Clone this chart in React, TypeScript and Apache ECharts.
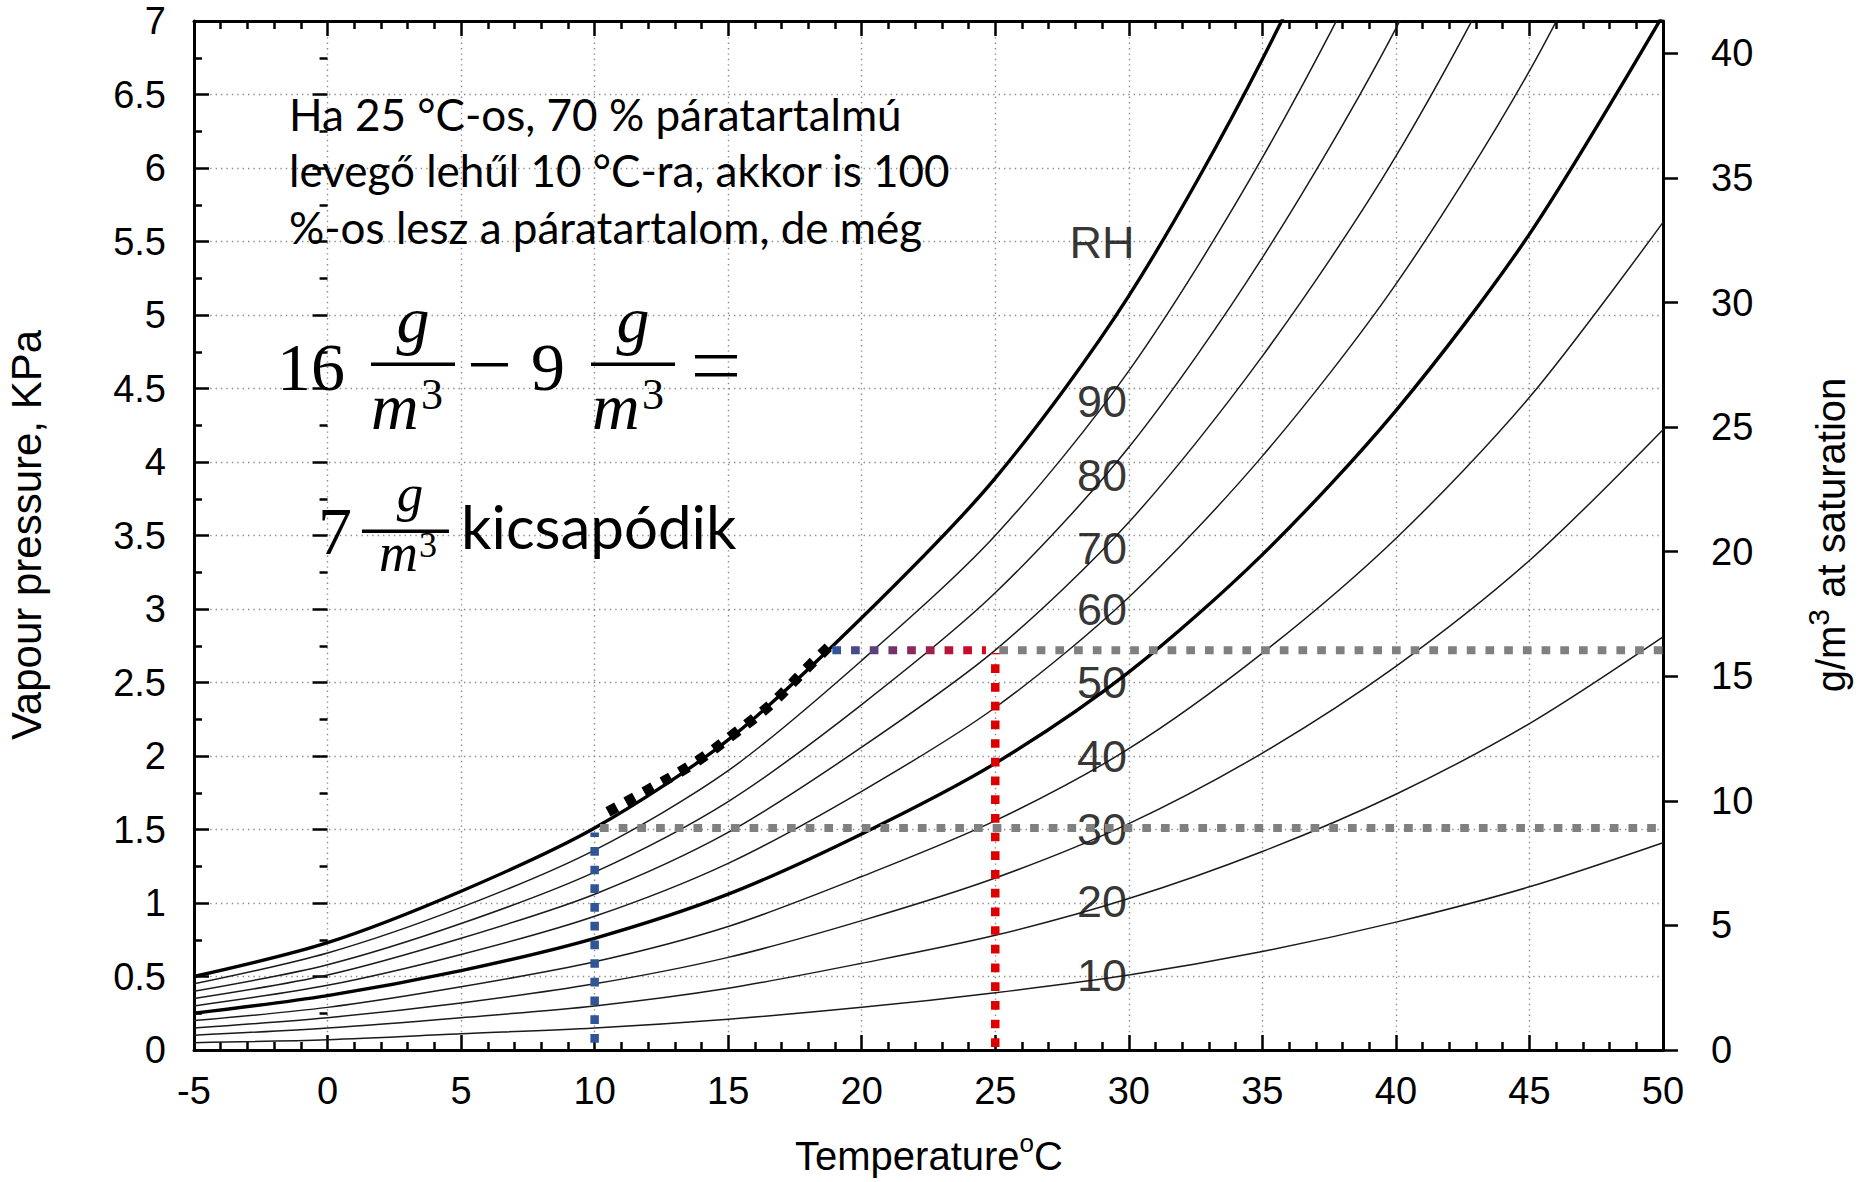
import React, { useEffect, useRef } from "react";
import * as echarts from "echarts";

const temperatures = [-5, 0, 5, 10, 15, 20, 25, 30, 35, 40, 45, 50];
// Vapour pressure (KPa) of each relative-humidity curve
const rh100 = [0.5, 0.73, 1.08, 1.51, 2.11, 2.94, 3.89, 5.13, 6.74, 8.69, 11.1, 14.07];
const rh90 = [0.45, 0.66, 0.97, 1.36, 1.9, 2.65, 3.5, 4.62, 6.07, 7.82, 9.99, 12.66];
const rh80 = [0.4, 0.58, 0.86, 1.21, 1.69, 2.35, 3.11, 4.1, 5.39, 6.95, 8.88, 11.26];
const rh70 = [0.35, 0.51, 0.76, 1.06, 1.48, 2.06, 2.72, 3.59, 4.72, 6.08, 7.77, 9.85];
const rh60 = [0.3, 0.44, 0.65, 0.91, 1.27, 1.76, 2.33, 3.08, 4.04, 5.21, 6.66, 8.44];
const rh50 = [0.25, 0.37, 0.54, 0.76, 1.06, 1.47, 1.95, 2.57, 3.37, 4.35, 5.55, 7.04];
const rh40 = [0.2, 0.29, 0.43, 0.6, 0.84, 1.18, 1.56, 2.05, 2.7, 3.48, 4.44, 5.63];
const rh30 = [0.15, 0.22, 0.32, 0.45, 0.63, 0.88, 1.17, 1.54, 2.02, 2.61, 3.33, 4.22];
const rh20 = [0.1, 0.15, 0.22, 0.3, 0.42, 0.59, 0.78, 1.03, 1.35, 1.74, 2.22, 2.81];
const rh10 = [0.05, 0.07, 0.11, 0.15, 0.21, 0.29, 0.39, 0.51, 0.67, 0.87, 1.11, 1.41];

// RH labels placed in the plot
const rhLabelNames = ["RH", "90", "80", "70", "60", "50", "40", "30", "20", "10"];
const rhLabelTemp = 29.0;
const rhLabelPressure = [5.49, 4.41, 3.91, 3.41, 3.0, 2.5, 2.0, 1.5, 1.01, 0.51];

// Annotation: dotted marker along the saturation curve (10 -> 19 °C)
const coolingTemp = [10.5, 12.3, 13.8, 15.25, 16.65, 17.9, 18.75];
const coolingPressure = [1.62, 1.8, 1.96, 2.155, 2.36, 2.59, 2.74];

// Annotation guide values
const lowTemp = 10;
const highTemp = 25;
const lowLevel = 1.51; // ≈ 9 g/m3
const highLevel = 2.72; // ≈ 16 g/m3
const gradientStart = 18.9;
const xMax = 50;

// Right axis (g/m3 at saturation)
const rightTicks = [0, 5, 10, 15, 20, 25, 30, 35, 40];
const rightMax = 41.3;

const SANS = '"Liberation Sans", Arial, Helvetica, sans-serif';
const SERIF = '"Liberation Serif", "DejaVu Serif", serif';
const CAL = 'Lato, "Open Sans", "Noto Sans", sans-serif';

const curves = [
  { v: rh100, thick: true },
  { v: rh90, thick: false },
  { v: rh80, thick: false },
  { v: rh70, thick: false },
  { v: rh60, thick: false },
  { v: rh50, thick: true },
  { v: rh40, thick: false },
  { v: rh30, thick: false },
  { v: rh20, thick: false },
  { v: rh10, thick: false },
];

function txt(text: string, x: number, y: number, fontSize: number, fontFamily: string, extra: any = {}, align = "left") {
  return {
    type: "text",
    x,
    y,
    silent: true,
    z: 100,
    style: {
      text,
      fontSize,
      fontFamily,
      fill: "#000",
      align,
      verticalAlign: "middle",
      textAlign: align,
      textVerticalAlign: "middle",
      ...extra,
    },
  };
}

function bar(x: number, y: number, w: number, h = 3.5) {
  return { type: "rect", silent: true, z: 100, shape: { x, y, width: w, height: h }, style: { fill: "#000" } };
}

export default function App() {
  const ref = useRef<HTMLDivElement>(null);

  useEffect(() => {
    if (!ref.current) return;
    const chart = echarts.init(ref.current, undefined, { renderer: "svg" });

    const tickStyle = { color: "#000", width: 2.5 };
    const gridLine = { color: "#8c8c8c", width: 1.4, type: [1.4, 4] };

    const curveSeries = curves.map((c) => ({
      type: "line",
      data: temperatures.map((t, i) => [t, c.v[i]]),
      smooth: 0.3,
      showSymbol: false,
      symbol: "none",
      silent: true,
      clip: true,
      lineStyle: { color: c.thick ? "#000" : "#1a1a1a", width: c.thick ? 3.4 : 1.5 },
      z: 3,
    }));

    const dotted = (data: number[][], color: string, width = 8.5, dash = [8.7, 10]) => ({
      type: "line",
      data,
      showSymbol: false,
      symbol: "none",
      silent: true,
      lineStyle: { color, width, type: dash, cap: "butt" },
      z: 5,
    });

    const series: any[] = [
      {
        type: "scatter",
        data: rhLabelNames.map((n, i) => [rhLabelTemp, rhLabelPressure[i], n]),
        symbolSize: 1,
        itemStyle: { color: "rgba(0,0,0,0)" },
        silent: true,
        z: 2,
        label: {
          show: true,
          position: "inside",
          formatter: (p: any) => p.data[2],
          fontSize: 45,
          fontFamily: SANS,
          color: "#000",
          textBorderWidth: 0,
          textBorderColor: "transparent",
        },
      },
      ...curveSeries,
      dotted([[lowTemp + 0.2, lowLevel], [xMax, lowLevel]], "#808080", 8),
      dotted([[highTemp + 0.15, highLevel], [xMax, highLevel]], "#808080", 8),
      dotted([[lowTemp, 0.05], [lowTemp, lowLevel - 0.03]], "#2f5597"),
      dotted([[highTemp, 0.02], [highTemp, highLevel - 0.02]], "#dd0000"),
      {
        type: "line",
        data: [[gradientStart, highLevel], [highTemp - 0.35, highLevel]],
        showSymbol: false,
        symbol: "none",
        silent: true,
        lineStyle: { width: 8, type: [8.7, 10], cap: "butt" },
        z: 5,
      },
      {
        type: "line",
        data: coolingTemp.map((t, i) => [t, coolingPressure[i]]),
        smooth: 0.4,
        showSymbol: false,
        symbol: "none",
        silent: true,
        lineStyle: { color: "#000", width: 10.5, type: [10, 10.5], cap: "butt" },
        z: 5,
      },
    ];
    const gradientIndex = series.length - 2;

    const option: any = {
      animation: false,
      backgroundColor: "#ffffff",
      grid: { left: 194, top: 21, width: 1469, height: 1029, containLabel: false },
      visualMap: [
        {
          type: "continuous",
          show: false,
          seriesIndex: gradientIndex,
          dimension: 0,
          min: gradientStart,
          max: highTemp - 0.35,
          inRange: { color: ["#2e56a0", "#e0001a"] },
        },
      ],
      xAxis: [
        {
          type: "value",
          min: -5,
          max: 50,
          interval: 5,
          position: "bottom",
          axisLine: { show: true, onZero: false, lineStyle: { color: "#000", width: 3 } },
          axisTick: { show: true, inside: true, length: 15, lineStyle: tickStyle },
          minorTick: { show: true, splitNumber: 5, length: 8, lineStyle: tickStyle },
          axisLabel: { show: true, margin: 22, color: "#000", fontSize: 38, fontFamily: SANS },
          splitLine: { show: true, showMinLine: false, showMaxLine: false, lineStyle: gridLine },
        },
        {
          type: "value",
          min: -5,
          max: 50,
          interval: 5,
          position: "top",
          axisLine: { show: true, onZero: false, lineStyle: { color: "#000", width: 3 } },
          axisTick: { show: true, inside: true, length: 15, lineStyle: tickStyle },
          minorTick: { show: true, splitNumber: 5, length: 8, lineStyle: tickStyle },
          axisLabel: { show: false },
          splitLine: { show: false },
        },
      ],
      yAxis: [
        {
          type: "value",
          min: 0,
          max: 7,
          interval: 0.5,
          position: "left",
          axisLine: { show: true, onZero: false, lineStyle: { color: "#000", width: 3 } },
          axisTick: { show: true, inside: true, length: 15, lineStyle: tickStyle },
          minorTick: { show: true, splitNumber: 2, length: 8, lineStyle: tickStyle },
          axisLabel: { show: true, margin: 28, color: "#000", fontSize: 38, fontFamily: SANS },
          splitLine: { show: true, showMinLine: false, showMaxLine: false, lineStyle: gridLine },
        },
        {
          type: "value",
          min: 0,
          max: rightMax,
          position: "right",
          axisLine: { show: true, onZero: false, lineStyle: { color: "#000", width: 3 } },
          axisTick: { show: true, inside: false, length: 15, lineStyle: tickStyle, customValues: rightTicks },
          axisLabel: { show: true, margin: 48, color: "#000", fontSize: 38, fontFamily: SANS, customValues: rightTicks },
          splitLine: { show: false },
        },
        {
          type: "value",
          min: 0,
          max: 7,
          interval: 0.5,
          position: "right",
          axisLine: { show: false },
          axisTick: { show: true, inside: true, length: 15, lineStyle: tickStyle },
          minorTick: { show: true, splitNumber: 2, length: 8, lineStyle: tickStyle },
          axisLabel: { show: false },
          splitLine: { show: false },
        },
      ],
      series,
      graphic: {
        elements: [
          // axis titles
          { ...txt("Vapour pressure, KPa", 26, 535, 42, SANS, {}, "center"), rotation: Math.PI / 2 },
          {
            ...txt("g/m{sup|3} at saturation", 1831, 535, 40, SANS, {
              lineHeight: 56,
              rich: { sup: { fontSize: 30, fontFamily: SANS, verticalAlign: "top", lineHeight: 30, fill: "#000" } },
            }, "center"),
            rotation: Math.PI / 2,
          },
          txt("Temperature{sup|o}C", 929, 1156, 40, SANS, {
            lineHeight: 52,
            rich: { sup: { fontSize: 26, fontFamily: SANS, verticalAlign: "top", lineHeight: 26, fill: "#000" } },
          }, "center"),
          // Hungarian explanation
          txt("Ha 25 °C-os, 70 % páratartalmú", 289, 114, 44, CAL),
          txt("levegő lehűl 10 °C-ra, akkor is 100", 289, 170, 44, CAL),
          txt("%-os lesz a páratartalom, de még", 289, 227, 44, CAL),
          // 16 g/m3 - 9 g/m3 =
          txt("16", 277, 367, 68, SERIF),
          bar(371, 362.5, 84),
          txt("g", 413, 319, 66, SERIF, { fontStyle: "italic" }, "center"),
          txt("m", 371, 406, 66, SERIF, { fontStyle: "italic" }),
          txt("3", 421, 394, 44, SERIF),
          bar(471, 363, 37),
          txt("9", 548, 367, 68, SERIF, {}, "center"),
          bar(591, 362.5, 84),
          txt("g", 633, 319, 66, SERIF, { fontStyle: "italic" }, "center"),
          txt("m", 592, 406, 66, SERIF, { fontStyle: "italic" }),
          txt("3", 642, 394, 44, SERIF),
          bar(695, 355, 42),
          bar(695, 373, 42),
          // 7 g/m3 kicsapódik
          txt("7", 335, 531, 68, SERIF, {}, "center"),
          bar(362, 529.5, 87),
          txt("g", 410, 493, 53, SERIF, { fontStyle: "italic" }, "center"),
          txt("m", 379, 553, 54, SERIF, { fontStyle: "italic" }),
          txt("3", 419, 545, 36, SERIF),
          txt("kicsapódik", 461, 526, 60, CAL),
        ],
      },
    };

    chart.setOption(option);
    return () => chart.dispose();
  }, []);

  return (
    <div
      ref={ref}
      style={{ position: "absolute", left: 0, top: 0, width: 1864, height: 1182, background: "#fff" }}
    />
  );
}
